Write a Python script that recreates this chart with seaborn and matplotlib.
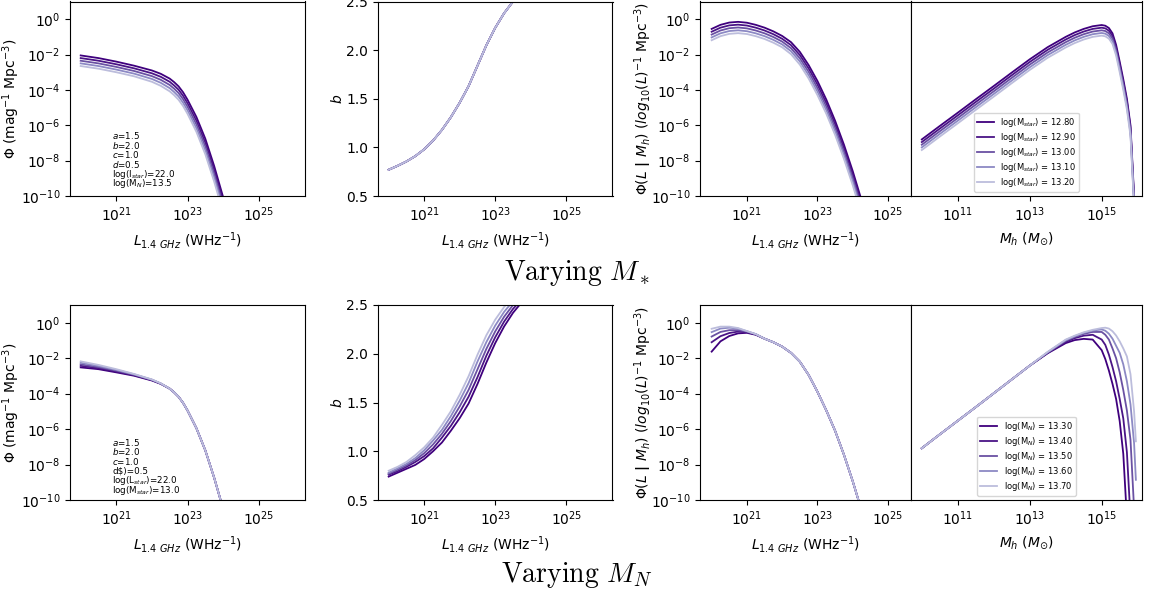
import numpy as np
import pandas as pd
import matplotlib
matplotlib.use("Agg")
import matplotlib.pyplot as plt
from matplotlib.ticker import FixedLocator, NullLocator
import seaborn as sns

# ---------------------------------------------------------------------------
# Model sweeps
# ---------------------------------------------------------------------------
mstar_values = [12.80, 12.90, 13.00, 13.10, 13.20]
mn_values = [13.30, 13.40, 13.50, 13.60, 13.70]
line_colors = ["#3f007d", "#4a1486", "#6a51a3", "#8c89c4", "#bcbddc"]

# log10 L_1.4GHz grid for the luminosity function
log_l_lf = [20.0, 20.5, 21.0, 21.5, 22.0, 22.25, 22.5, 22.625, 22.75, 22.875,
            23.0, 23.25, 23.5, 23.75, 24.0]

# log10 Phi (mag^-1 Mpc^-3), varying M_star
lf_mstar = [
    [-2.05, -2.20, -2.40, -2.63, -2.90, -3.09, -3.36, -3.56, -3.80, -4.13, -4.55, -5.53, -6.76, -8.31, -10.06],
    [-2.20, -2.35, -2.55, -2.78, -3.06, -3.26, -3.54, -3.75, -3.99, -4.33, -4.75, -5.74, -6.98, -8.53, -10.28],
    [-2.35, -2.50, -2.70, -2.93, -3.22, -3.43, -3.72, -3.93, -4.18, -4.52, -4.95, -5.95, -7.20, -8.75, -10.50],
    [-2.50, -2.65, -2.85, -3.08, -3.38, -3.60, -3.90, -4.12, -4.37, -4.72, -5.15, -6.16, -7.42, -8.97, -10.72],
    [-2.65, -2.80, -3.00, -3.23, -3.54, -3.77, -4.08, -4.30, -4.56, -4.91, -5.35, -6.37, -7.64, -9.19, -10.94],
]
# log10 Phi, varying M_N
lf_mn = [
    [-2.52, -2.62, -2.80, -2.99, -3.26, -3.45, -3.72, -3.93, -4.18, -4.52, -4.95, -5.95, -7.20, -8.75, -10.50],
    [-2.43, -2.56, -2.75, -2.96, -3.24, -3.44, -3.72, -3.93, -4.18, -4.52, -4.95, -5.95, -7.20, -8.75, -10.50],
    [-2.35, -2.50, -2.70, -2.93, -3.22, -3.43, -3.72, -3.93, -4.18, -4.52, -4.95, -5.95, -7.20, -8.75, -10.50],
    [-2.26, -2.44, -2.66, -2.91, -3.21, -3.43, -3.72, -3.93, -4.18, -4.52, -4.95, -5.95, -7.20, -8.75, -10.50],
    [-2.18, -2.38, -2.62, -2.89, -3.20, -3.42, -3.72, -3.93, -4.18, -4.52, -4.95, -5.95, -7.20, -8.75, -10.50],
]

# bias b(L); independent of M_star
log_l_bias = [20.0, 20.25, 20.5, 20.75, 21.0, 21.25, 21.5, 21.75, 22.0, 22.25,
              22.5, 22.75, 23.0, 23.25, 23.5, 23.75, 24.0]
bias_mstar = [0.77, 0.81, 0.855, 0.91, 0.98, 1.07, 1.18, 1.31, 1.46, 1.63, 1.84, 2.05, 2.23, 2.38, 2.50, 2.59, 2.66]
bias_mn = [
    [0.74, 0.78, 0.82, 0.86, 0.92, 1.00, 1.09, 1.21, 1.34, 1.49, 1.69, 1.91, 2.11, 2.28, 2.42, 2.53, 2.61],
    [0.76, 0.795, 0.84, 0.89, 0.95, 1.03, 1.14, 1.26, 1.40, 1.56, 1.76, 1.98, 2.17, 2.33, 2.46, 2.56, 2.64],
    [0.77, 0.81, 0.855, 0.91, 0.98, 1.07, 1.18, 1.31, 1.46, 1.63, 1.84, 2.05, 2.23, 2.38, 2.50, 2.59, 2.66],
    [0.78, 0.825, 0.87, 0.93, 1.01, 1.11, 1.22, 1.36, 1.52, 1.70, 1.92, 2.12, 2.29, 2.43, 2.54, 2.62, 2.69],
    [0.80, 0.84, 0.89, 0.96, 1.04, 1.14, 1.27, 1.41, 1.58, 1.77, 1.99, 2.19, 2.35, 2.48, 2.58, 2.65, 2.71],
]

# conditional luminosity function vs L
log_l_clf = [20.0, 20.25, 20.5, 20.75, 21.0, 21.25, 21.5, 21.75, 22.0, 22.25,
             22.5, 22.75, 23.0, 23.25, 23.5, 23.75, 24.0, 24.25]
clf_l_mstar = [
    [-0.55, -0.32, -0.19, -0.15, -0.20, -0.32, -0.48, -0.69, -0.95, -1.30, -1.85, -2.60, -3.50, -4.55, -5.75, -7.10, -8.60, -10.25],
    [-0.71, -0.48, -0.35, -0.31, -0.36, -0.48, -0.64, -0.85, -1.11, -1.47, -2.03, -2.79, -3.70, -4.75, -5.95, -7.30, -8.80, -10.45],
    [-0.87, -0.64, -0.51, -0.47, -0.52, -0.64, -0.80, -1.01, -1.27, -1.64, -2.21, -2.98, -3.90, -4.95, -6.15, -7.50, -9.00, -10.65],
    [-1.03, -0.80, -0.67, -0.63, -0.68, -0.80, -0.96, -1.17, -1.43, -1.81, -2.39, -3.17, -4.10, -5.15, -6.35, -7.70, -9.20, -10.85],
    [-1.19, -0.96, -0.83, -0.79, -0.84, -0.96, -1.12, -1.33, -1.59, -1.98, -2.57, -3.36, -4.30, -5.35, -6.55, -7.90, -9.40, -11.05],
]
clf_l_mn = [
    [-1.63, -1.05, -0.75, -0.60, -0.57, -0.68, -0.90, -1.10, -1.35, -1.70, -2.20, -2.95, -3.90, -4.95, -6.10, -7.45, -8.95, -10.60],
    [-1.10, -0.76, -0.58, -0.50, -0.53, -0.66, -0.90, -1.10, -1.35, -1.70, -2.20, -2.95, -3.90, -4.95, -6.10, -7.45, -8.95, -10.60],
    [-0.78, -0.52, -0.42, -0.42, -0.50, -0.65, -0.90, -1.10, -1.35, -1.70, -2.20, -2.95, -3.90, -4.95, -6.10, -7.45, -8.95, -10.60],
    [-0.53, -0.33, -0.28, -0.33, -0.48, -0.64, -0.90, -1.10, -1.35, -1.70, -2.20, -2.95, -3.90, -4.95, -6.10, -7.45, -8.95, -10.60],
    [-0.34, -0.22, -0.22, -0.30, -0.47, -0.64, -0.90, -1.10, -1.35, -1.70, -2.20, -2.95, -3.90, -4.95, -6.10, -7.45, -8.95, -10.60],
]

# conditional luminosity function vs halo mass
log_mh = [10.0, 10.5, 11.0, 11.5, 12.0, 12.5, 13.0, 13.5, 14.0, 14.25, 14.5, 14.75,
          15.0, 15.1, 15.2, 15.3, 15.4, 15.5, 15.6, 15.7, 15.8, 15.9, 15.95]
clf_m_mstar = [
    [-6.80, -6.04, -5.29, -4.53, -3.78, -3.02, -2.27, -1.58, -1.00, -0.75, -0.55, -0.40,
     -0.33, -0.37, -0.50, -0.80, -1.45, -2.40, -3.40, -4.50, -6.00, -10.00, -13.00],
    [-6.95, -6.19, -5.44, -4.68, -3.93, -3.17, -2.42, -1.73, -1.15, -0.90, -0.70, -0.55,
     -0.48, -0.52, -0.65, -0.95, -1.60, -2.55, -3.55, -4.65, -6.15, -10.15, -13.15],
    [-7.10, -6.34, -5.59, -4.83, -4.08, -3.32, -2.57, -1.88, -1.30, -1.05, -0.85, -0.70,
     -0.63, -0.67, -0.80, -1.10, -1.75, -2.70, -3.70, -4.80, -6.30, -10.30, -13.30],
    [-7.25, -6.49, -5.74, -4.98, -4.23, -3.47, -2.72, -2.03, -1.45, -1.20, -1.00, -0.85,
     -0.78, -0.82, -0.95, -1.25, -1.90, -2.85, -3.85, -4.95, -6.45, -10.45, -13.45],
    [-7.40, -6.64, -5.89, -5.13, -4.38, -3.62, -2.87, -2.18, -1.60, -1.35, -1.15, -1.00,
     -0.93, -0.97, -1.10, -1.40, -2.05, -3.00, -4.00, -5.10, -6.60, -10.60, -13.60],
]
clf_m_mn = [
    [-7.08, -6.30, -5.53, -4.76, -3.98, -3.20, -2.42, -1.72, -1.15, -0.98, -0.91, -0.95,
     -1.55, -2.05, -2.70, -3.45, -4.30, -5.55, -7.40, -11.00, -16.00, -22.00, -26.00],
    [-7.08, -6.30, -5.53, -4.76, -3.98, -3.20, -2.42, -1.70, -1.08, -0.87, -0.73, -0.68,
     -0.95, -1.25, -1.80, -2.50, -3.30, -4.30, -5.40, -7.30, -11.00, -16.00, -19.00],
    [-7.08, -6.30, -5.53, -4.76, -3.98, -3.20, -2.42, -1.68, -1.02, -0.80, -0.63, -0.52,
     -0.52, -0.68, -0.95, -1.45, -2.00, -2.80, -3.80, -4.95, -6.60, -10.50, -13.00],
    [-7.08, -6.30, -5.53, -4.76, -3.98, -3.20, -2.42, -1.66, -0.98, -0.76, -0.57, -0.44,
     -0.38, -0.45, -0.62, -0.90, -1.30, -1.70, -2.35, -3.30, -4.60, -6.80, -8.86],
    [-7.08, -6.30, -5.53, -4.76, -3.98, -3.20, -2.42, -1.64, -0.95, -0.73, -0.54, -0.40,
     -0.30, -0.28, -0.33, -0.48, -0.72, -1.05, -1.45, -1.90, -2.90, -5.00, -6.69],
]

params_mstar = [r"$a$=1.5", r"$b$=2.0", r"$c$=1.0", r"$d$=0.5",
                r"log(l$_{star}$)=22.0", r"log(M$_N$)=13.5"]
params_mn = [r"$a$=1.5", r"$b$=2.0", r"$c$=1.0", r"d\$)=0.5",
             r"log(L$_{star}$)=22.0", r"log(M$_{star}$)=13.0"]

# ---------------------------------------------------------------------------
W, H = 1157, 599
fig = plt.figure(figsize=(W / 100, H / 100), dpi=100)


def rect(x0, x1, ytop, ybot):
    return [x0 / W, 1 - ybot / H, (x1 - x0) / W, (ybot - ytop) / H]


LUM_LABEL = r"$L_{1.4\ GHz}$ (WHz$^{-1}$)"
PHI_TICKS = [1e-10, 1e-8, 1e-6, 1e-4, 1e-2, 1e0]


def draw(ax, xs, ys, color, label=None, log_y=True):
    yv = np.asarray(ys, float)
    df = pd.DataFrame({"x": 10 ** np.asarray(xs, float),
                       "y": 10 ** yv if log_y else yv})
    sns.lineplot(data=df, x="x", y="y", ax=ax, color=color, lw=1.3, sort=False,
                 estimator=None, label=label, legend=label is not None)


def style_log_x(ax, ticks, lims):
    ax.set_xscale("log")
    ax.set_xlim(*lims)
    ax.xaxis.set_major_locator(FixedLocator(ticks))
    ax.xaxis.set_minor_locator(NullLocator())


def make_row(ytop, ybot, lf, bias, clf_l, clf_m, values, legend_fmt, params,
             text_top, text_step, title, title_y):
    ax1 = fig.add_axes(rect(70, 305, ytop, ybot))
    ax2 = fig.add_axes(rect(378, 612.5, ytop, ybot))
    ax3 = fig.add_axes(rect(700, 911, ytop, ybot))
    ax4 = fig.add_axes(rect(911, 1142, ytop, ybot))

    for ax in (ax1, ax3, ax4):
        ax.set_yscale("log")
    for ax in (ax1, ax2):
        style_log_x(ax, [1e21, 1e23, 1e25], (10 ** 19.7, 10 ** 26.3))
    style_log_x(ax3, [1e21, 1e23, 1e25], (10 ** 19.67, 10 ** 25.65))
    style_log_x(ax4, [1e11, 1e13, 1e15], (10 ** 9.7, 10 ** 16.12))

    for i, c in enumerate(line_colors):
        draw(ax1, log_l_lf, lf[i], c)
        draw(ax2, log_l_bias, bias[i], c, log_y=False)
        draw(ax3, log_l_clf, clf_l[i], c)
        draw(ax4, log_mh, clf_m[i], c, label=legend_fmt.format(values[i]))

    for ax in (ax1, ax3, ax4):
        ax.set_ylim(1e-10, 1e1)
        ax.yaxis.set_major_locator(FixedLocator(PHI_TICKS))
        ax.yaxis.set_minor_locator(NullLocator())
    ax2.set_ylim(0.5, 2.5)
    ax2.set_yticks([0.5, 1.0, 1.5, 2.0, 2.5])

    ax1.set_xlabel(LUM_LABEL)
    ax2.set_xlabel(LUM_LABEL)
    ax3.set_xlabel(LUM_LABEL)
    ax4.set_xlabel(r"$M_h$ ($M_{\odot}$)")
    ax1.set_ylabel(r"$\Phi$ (mag$^{-1}$ Mpc$^{-3}$)")
    ax2.set_ylabel(r"$b$")
    ax3.set_ylabel(r"$\Phi(L\ \mathbf{|}\ M_h)$ $(log_{10}(L)^{-1}$ Mpc$^{-3}$)")
    ax4.set_ylabel("")
    ax4.tick_params(axis="y", left=False, labelleft=False)

    ax1.yaxis.set_label_coords(-0.204, 0.5)
    ax2.yaxis.set_label_coords(-0.141, 0.5)
    ax3.yaxis.set_label_coords(-0.218, 0.5)

    # model parameters, one line each
    for k, line in enumerate(params):
        ax1.text(0.18, text_top - k * text_step, line, transform=ax1.transAxes,
                 fontsize=6.3, va="center", ha="left")

    ax4.legend(loc="lower center", fontsize=6, labelspacing=0.25, borderpad=0.35)

    fig.text(0.4985, 1 - title_y / H, title, ha="center", va="center",
             fontsize=20, math_fontfamily="cm")


make_row(1.5, 196, lf_mstar, [bias_mstar] * 5, clf_l_mstar, clf_m_mstar,
         mstar_values, r"log(M$_{{star}}$) = {:.2f}", params_mstar,
         0.31, 0.0494, r"$\mathrm{Varying}\ M_*$", 273)
make_row(305, 500, lf_mn, bias_mn, clf_l_mn, clf_m_mn,
         mn_values, r"log(M$_N$) = {:.2f}", params_mn,
         0.297, 0.0492, r"$\mathrm{Varying}\ M_N$", 575)

fig.savefig("out.png", dpi=100)
